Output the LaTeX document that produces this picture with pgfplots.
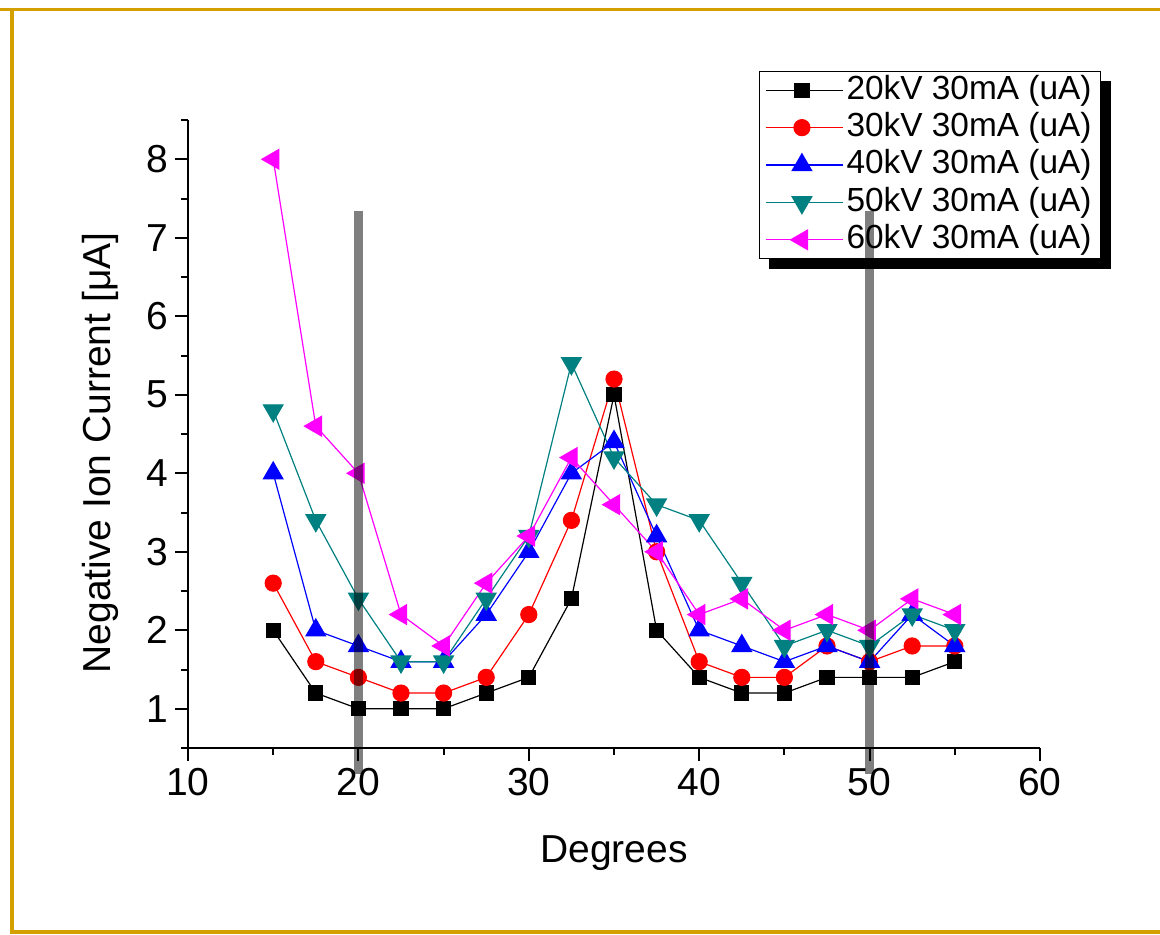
\documentclass[border=0pt]{standalone}
\usepackage{fontspec}
\setmainfont{Liberation Sans}
\usepackage{pgfplots}
\pgfplotsset{compat=1.18}
\definecolor{framegold}{RGB}{212,160,0}
\definecolor{tealc}{RGB}{0,128,128}
\definecolor{magc}{RGB}{255,0,255}
\definecolor{bluec}{RGB}{0,0,255}
\definecolor{redc}{RGB}{255,0,0}
\begin{document}
\begin{tikzpicture}
\useasboundingbox (0,0) rectangle (580pt,467pt);
\draw[framegold, line width=1.75pt] (0,462.25pt) -- (580pt,462.25pt);
\draw[framegold, line width=2pt] (6pt,462.25pt) -- (6pt,1.25pt) -- (580pt,1.25pt);
\begin{axis}[
  at={(94pt,93pt)}, anchor=south west, scale only axis,
  width=426pt, height=314pt,
  xmin=10, xmax=60, ymin=0.5, ymax=8.5,
  axis x line*=bottom, axis y line*=left,
  axis line style={line width=1pt, -},
  xtick={10,20,...,60}, ytick={1,2,...,8},
  minor xtick={15,25,...,55}, minor ytick={0.5,1.5,...,8.5},
  tick align=outside, major tick length=6.5pt, minor tick length=3.5pt,
  every tick/.style={line width=1pt, black},
  /pgf/number format/assume math mode=true,
  ticklabel style={font=\fontsize{19.5}{23}\selectfont},
  xlabel={Degrees}, ylabel={Negative Ion Current [μA]},
  label style={font=\fontsize{19.5}{23}\selectfont},
  xlabel style={at={(axis description cs:0.5,-0.168)}, anchor=center},
  ylabel style={at={(axis description cs:-0.103,0.47)}, anchor=center},
  clip=false,
  legend style={at={(axis description cs:0.670,1.078)}, anchor=north west,
    name=lgd,
    draw=black, line width=0.5pt, fill=white,
    font=\fontsize{16.7}{19}\selectfont, inner xsep=3pt, inner ysep=0pt, row sep=0pt,
    nodes={inner sep=1.5pt, text height=12.3pt, text depth=3.4pt}},
  legend cell align=left,
  legend image code/.code={
    \path (0pt,0pt) -- (38.5pt,0pt);
    \draw[mark repeat=2,mark phase=2,#1] plot coordinates {(0pt,0pt) (18pt,0pt) (36pt,0pt)};
  },
]
\addplot[black, line width=0.6pt, mark=square*, mark size=3.5pt] coordinates {
(15,2.0) (17.5,1.2) (20,1.0) (22.5,1.0) (25,1.0) (27.5,1.2) (30,1.4) (32.5,2.4) (35,5.0)
(37.5,2.0) (40,1.4) (42.5,1.2) (45,1.2) (47.5,1.4) (50,1.4) (52.5,1.4) (55,1.6)};
\addlegendentry{20kV 30mA (uA)}
\addplot[redc, line width=0.6pt, mark=*, mark size=4pt] coordinates {
(15,2.6) (17.5,1.6) (20,1.4) (22.5,1.2) (25,1.2) (27.5,1.4) (30,2.2) (32.5,3.4) (35,5.2)
(37.5,3.0) (40,1.6) (42.5,1.4) (45,1.4) (47.5,1.8) (50,1.6) (52.5,1.8) (55,1.8)};
\addlegendentry{30kV 30mA (uA)}
\addplot[bluec, line width=0.6pt, mark=triangle*, mark size=5.6pt] coordinates {
(15,4.0) (17.5,2.0) (20,1.8) (22.5,1.6) (25,1.6) (27.5,2.2) (30,3.0) (32.5,4.0) (35,4.4)
(37.5,3.2) (40,2.0) (42.5,1.8) (45,1.6) (47.5,1.8) (50,1.6) (52.5,2.2) (55,1.8)};
\addlegendentry{40kV 30mA (uA)}
\addplot[tealc, line width=0.6pt, mark=triangle*, mark size=5.6pt, mark options={rotate=180}] coordinates {
(15,4.8) (17.5,3.4) (20,2.4) (22.5,1.6) (25,1.6) (27.5,2.4) (30,3.2) (32.5,5.4) (35,4.2)
(37.5,3.6) (40,3.4) (42.5,2.6) (45,1.8) (47.5,2.0) (50,1.8) (52.5,2.2) (55,2.0)};
\addlegendentry{50kV 30mA (uA)}
\addplot[magc, line width=0.6pt, mark=triangle*, mark size=5.6pt, mark options={rotate=90}] coordinates {
(15,8.0) (17.5,4.6) (20,4.0) (22.5,2.2) (25,1.8) (27.5,2.6) (30,3.2) (32.5,4.2) (35,3.6)
(37.5,3.0) (40,2.2) (42.5,2.4) (45,2.0) (47.5,2.2) (50,2.0) (52.5,2.4) (55,2.2)};
\addlegendentry{60kV 30mA (uA)}
\coordinate (b20lo) at (axis cs:20,0.17);
\coordinate (b20hi) at (axis cs:20,7.34);
\coordinate (b50lo) at (axis cs:50,0.17);
\coordinate (b50hi) at (axis cs:50,7.34);
\end{axis}
% legend shadow
\fill[black] ([yshift=-5pt]lgd.north east) rectangle ([xshift=5pt,yshift=-5pt]lgd.south east);
\fill[black] ([xshift=5pt]lgd.south west) rectangle ([xshift=5pt,yshift=-5pt]lgd.south east);
% grey marker bars
\draw[black, opacity=0.5, line width=4.5pt] (b20lo) -- (b20hi);
\draw[black, opacity=0.5, line width=4.5pt] (b50lo) -- (b50hi);
\end{tikzpicture}
\end{document}
